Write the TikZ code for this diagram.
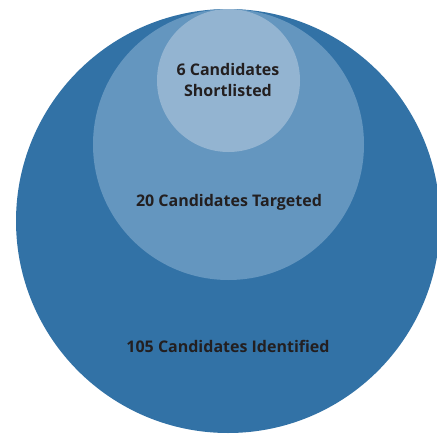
\documentclass[tikz,border=0pt]{standalone}
\usepackage{fontspec}
\setmainfont{Open Sans}
\definecolor{outerblue}{HTML}{3272A6}
\definecolor{midblue}{HTML}{6496BF}
\definecolor{innerblue}{HTML}{93B4D1}
\definecolor{labeltext}{HTML}{231F20}
\begin{document}
\begin{tikzpicture}[x=1pt,y=-1pt,
  ring/.style={circle,draw=none,inner sep=0pt},
  lbl/.style={font=\bfseries\fontsize{16}{21}\selectfont,text=labeltext,align=center}]
  \useasboundingbox (0,0) rectangle (437,434);
  \clip (0,0) rectangle (437,434);
  \node[ring,fill=outerblue,minimum size=424pt] (identified) at (228,221) {};
  \node[ring,fill=midblue,minimum size=271pt] (targeted) at (228.5,144.5) {};
  \node[ring,fill=innerblue,minimum size=143pt] (shortlisted) at (228.5,80.5) {};
  \node[lbl] (t6) at (228,79.5) {6 Candidates\\Shortlisted};
  \node[lbl] (t20) at (229,202) {20 Candidates Targeted};
  \node[lbl] (t105) at (228,346) {105 Candidates Identified};
\end{tikzpicture}
\end{document}
